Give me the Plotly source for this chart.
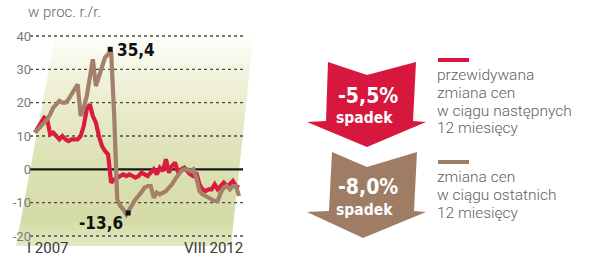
import plotly.graph_objects as go

# ---------------- data ----------------
months = list(range(68))  # I 2007 ... VIII 2012, monthly
expected_change = [11, 12.5, 14, 15.5, 15, 10.5, 11, 10, 9, 10, 9, 8.5, 9, 9, 9, 10, 13, 18, 19.5, 16,
                   14, 10, 7, 5.5, 4.5, -4, -3, -2.5, -2, -1.5, -2, -1.5, -2, -2.5, -2, -1, -1.5, -2, -1, 0,
                   -1.5, 0.5, -0.5, 3, -1, 1, 2, -1, 0, 0.5, -0.5, -1.5, -2, -1, -4.5, -6, -6.5, -6, -6, -4.5,
                   -6, -5, -4, -5, -4.5, -3.5, -5, -5.5]
past_change = [11, 12, 13, 14, 15, 16.5, 18.5, 19.5, 20.5, 20, 20, 21, 22.5, 24.5, 25.5, 16, 18.5, 22, 27, 33,
               25, 28, 31, 33.5, 34.5, 35.4, 16.5, -9, -11, -12, -13.6, -12, -11, -9, -8, -6.5, -5.5, -5, -5, -8.5,
               -7, -7.5, -7, -6.5, -5.5, -4.5, -3, -1.5, -0.5, 0, 0, -0.5, 0, -2.5, -6.5, -7.5, -8, -8.5, -9, -9.5,
               -9.5, -7, -5.5, -5, -6, -5, -5, -8]
y_ticks = [-20, -10, 0, 10, 20, 30, 40]
x_labels = ["I 2007", "VIII 2012"]
peak_idx, peak_val, peak_text = 25, 35.4, "35,4"
low_idx, low_val, low_text = 30, -13.6, "-13,6"
red_big, brown_big = "-5,5%", "-8,0%"
sub_word = "spadek"
unit_label = "w proc. r./r."
legend_red = ["przewidywana", "zmiana cen", "w ciągu następnych", "12 miesięcy"]
legend_brown = ["zmiana cen", "w ciągu ostatnich", "12 miesięcy"]

RED = "#d7173d"
BROWN = "#9f7c64"
LINE_RED = "#da1c40"
LINE_BROWN = "#a3806a"

# ---------------- geometry helpers ----------------
W, H = 594, 264
X0, X1, Y0, Y1 = 12, 258, 28, 246          # plot area in pixels
PX_I0, PX_PER_M = 35.0, 3.0448             # x pixel of month 0, pixels per month
PY_V0, PY_PER_U = 169.33, 3.3333           # y pixel of value 0, pixels per unit

def px2i(px):
    return (px - PX_I0) / PX_PER_M

def py2v(py):
    return (PY_V0 - py) / PY_PER_U

def pxp(px):
    return (px - X0) / (X1 - X0)

def pyp(py):
    return (Y1 - py) / (Y1 - Y0)

x_lo, x_hi = px2i(30), px2i(243)

fig = go.Figure()

# background slanted gradient panel
bg_px = [(56, 30), (254, 30), (231, 246), (16, 246), (56, 30)]
fig.add_trace(go.Scatter(
    x=[px2i(a) for a, b in bg_px], y=[py2v(b) for a, b in bg_px],
    mode="lines", line=dict(width=0), fill="toself",
    fillgradient=dict(type="vertical",
                      colorscale=[[0, "#e4e8c2"], [0.12, "#d5dba6"], [0.45, "#dfe3b8"],
                                  [0.75, "#f0f1d8"], [1, "#ffffff"]]),
    hoverinfo="skip", showlegend=False))

# dotted gridlines and zero line (as traces so they sit above the panel)
for t in y_ticks:
    if t == 0:
        continue
    fig.add_trace(go.Scatter(x=[x_lo, x_hi], y=[t, t], mode="lines",
                             line=dict(color="#4a4a4a", width=1.3, dash="dot"),
                             hoverinfo="skip", showlegend=False))
fig.add_trace(go.Scatter(x=[x_lo, x_hi], y=[0, 0], mode="lines",
                         line=dict(color="#1a1a1a", width=2.2),
                         hoverinfo="skip", showlegend=False))

# data lines
fig.add_trace(go.Scatter(x=months, y=expected_change, mode="lines",
                         line=dict(color=LINE_RED, width=4.2), showlegend=False))
fig.add_trace(go.Scatter(x=months, y=past_change, mode="lines",
                         line=dict(color=LINE_BROWN, width=4.2), showlegend=False))
fig.add_trace(go.Scatter(x=[peak_idx - 0.3, low_idx + 0.6], y=[peak_val + 0.6, low_val + 0.5],
                         mode="markers", marker=dict(symbol="square", size=5, color="#111111"),
                         showlegend=False))

shapes = []

def path(points):
    return "M " + " L ".join(f"{pxp(a):.4f},{pyp(b):.4f}" for a, b in points) + " Z"

red_arrow = [(328, 62), (367, 75), (416, 62), (413, 121), (426, 122), (367, 147), (307, 122), (326, 121)]
brown_arrow = [(332, 152), (367, 167), (417, 152), (414, 211), (426, 212), (363, 238), (307, 212), (329, 211)]
shapes.append(dict(type="path", xref="paper", yref="paper", path=path(red_arrow),
                   fillcolor=RED, line=dict(width=0)))
shapes.append(dict(type="path", xref="paper", yref="paper", path=path(brown_arrow),
                   fillcolor=BROWN, line=dict(width=0)))
for yy, col in [(60, RED), (162, BROWN)]:
    shapes.append(dict(type="line", xref="paper", yref="paper", x0=pxp(438), x1=pxp(469),
                       y0=pyp(yy), y1=pyp(yy), line=dict(color=col, width=4)))

COND = "DejaVu Sans Condensed"
LIGHT = "Roboto"
ann = []

def txt(text, px, py, size, color, family, xanchor="left", weight="normal"):
    ann.append(dict(text=text, x=pxp(px), y=pyp(py), xref="paper", yref="paper",
                    xanchor=xanchor, yanchor="middle", showarrow=False, borderpad=0,
                    font=dict(size=size, color=color, family=family, weight=weight)))

txt(unit_label, 27, 12, 15, "#666666", LIGHT, weight=300)
txt(peak_text, 116, 50, 17, "#111111", COND, weight="bold")
txt(low_text, 124, 223, 17, "#111111", COND, xanchor="right", weight="bold")
txt(x_labels[0], 26, 248, 15, "#3a3a3a", LIGHT)
txt(x_labels[1], 244, 248, 15, "#3a3a3a", LIGHT, xanchor="right")
txt(red_big, 368, 96, 21, "white", COND, xanchor="center", weight="bold")
txt(sub_word, 364, 118, 15.5, "white", COND, xanchor="center", weight="bold")
txt(brown_big, 368, 187, 21, "white", COND, xanchor="center", weight="bold")
txt(sub_word, 364, 210, 15.5, "white", COND, xanchor="center", weight="bold")
for k, line in enumerate(legend_red):
    txt(line, 436, 75 + k * 17.8, 15.5, "#5f5f5f", LIGHT, weight=300)
for k, line in enumerate(legend_brown):
    txt(line, 436, 177 + k * 17.8, 15.5, "#5f5f5f", LIGHT, weight=300)

fig.update_layout(
    width=W, height=H,
    margin=dict(l=X0, r=W - X1, t=Y0, b=H - Y1, pad=0),
    paper_bgcolor="white", plot_bgcolor="rgba(0,0,0,0)",
    shapes=shapes, annotations=ann,
    xaxis=dict(range=[px2i(X0), px2i(X1)], visible=False, fixedrange=True),
    yaxis=dict(range=[py2v(Y1), py2v(Y0)], showgrid=False, zeroline=False,
               tickvals=y_ticks, ticktext=[str(t) for t in y_ticks],
               anchor="free", position=pxp(31), side="left", ticks="",
               showline=False, tickfont=dict(size=13, color="#7a7a7a", family=LIGHT),
               fixedrange=True),
)

fig.write_html("out.html")
